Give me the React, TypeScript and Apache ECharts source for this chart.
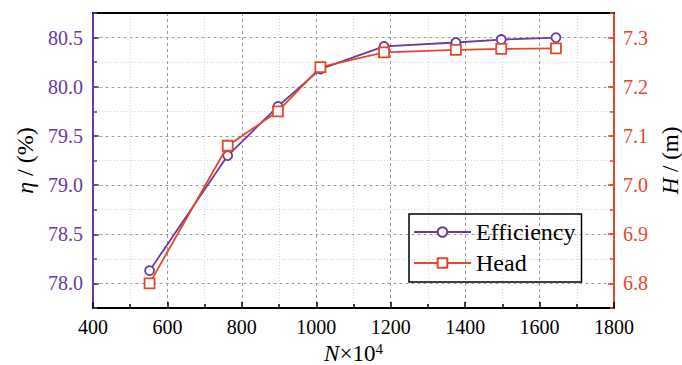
import React, { useEffect, useRef } from "react";
import * as echarts from "echarts";

const speeds = [552, 762, 897, 1011, 1182, 1375, 1497, 1644];
const efficiency = [78.13, 79.3, 79.8, 80.18, 80.41, 80.45, 80.48, 80.5];
const head = [6.8, 7.08, 7.15, 7.24, 7.27, 7.275, 7.277, 7.278];

const PURPLE = "#6a3a9e";
const RED = "#e2482a";
const FONT = "Times New Roman, Liberation Serif, serif";

export default function App() {
  const ref = useRef<HTMLDivElement>(null);
  useEffect(() => {
    const chart = echarts.init(ref.current!, null, { renderer: "svg" });
    const gridLine = { show: true, lineStyle: { color: "#9a9a9a", type: [3, 3] as any, width: 1 } };
    const minorLine = { show: true, lineStyle: { color: "#d2d2d2", type: [1, 2] as any, width: 1 } };
    chart.setOption({
      animation: false,
      textStyle: { fontFamily: FONT },
      grid: { left: 93, right: 68, top: 13, bottom: 57, containLabel: false, outerBoundsMode: "none" },
      legend: {
        orient: "vertical",
        left: 409,
        top: 214,
        padding: [5, 6, 6, 4],
        itemGap: 5,
        itemWidth: 57,
        itemHeight: 12,
        borderColor: "#000",
        borderWidth: 1.5,
        borderRadius: 0,
        textStyle: { fontFamily: FONT, fontSize: 24, color: "#000", lineHeight: 26 },
        data: ["Efficiency", "Head"],
      },
      xAxis: [
        {
          type: "value",
          min: 400,
          max: 1800,
          interval: 200,
          position: "bottom",
          name: "{i|N}×10{sup|4}",
          nameLocation: "middle",
          nameGap: 28,
          nameTextStyle: {
            fontFamily: FONT,
            fontSize: 23,
            color: "#000",
            lineHeight: 22,
            rich: {
              i: { fontFamily: FONT, fontSize: 23, fontStyle: "italic", color: "#000", lineHeight: 22 },
              sup: { fontFamily: FONT, fontSize: 15, color: "#000", lineHeight: 14, padding: [0, 0, 8, 0] },
            },
          },
          axisLine: { show: true, lineStyle: { color: "#000", width: 2 } },
          axisTick: { show: true, inside: true, length: 6, lineStyle: { color: "#000", width: 1.5 } },
          minorTick: { show: true, splitNumber: 2, length: 4, lineStyle: { color: "#000", width: 1.5 } },
          axisLabel: { fontFamily: FONT, fontSize: 20, color: "#000", margin: 9, formatter: (v: number) => String(v) },
          splitLine: gridLine,
          minorSplitLine: minorLine,
        },
        {
          type: "value",
          min: 400,
          max: 1800,
          interval: 200,
          position: "top",
          axisLine: { show: true, lineStyle: { color: "#000", width: 2 } },
          axisTick: { show: false },
          axisLabel: { show: false },
          splitLine: { show: false },
        },
      ],
      yAxis: [
        {
          type: "value",
          position: "left",
          min: 77.75,
          max: 80.75,
          splitNumber: 6,
          name: "{i|η} / (%)",
          nameLocation: "middle",
          nameRotate: 90,
          nameGap: 52,
          nameTextStyle: {
            fontFamily: FONT,
            fontSize: 24,
            color: "#000",
            rich: { i: { fontFamily: FONT, fontSize: 24, fontStyle: "italic", color: "#000" } },
          },
          axisLine: { show: true, lineStyle: { color: PURPLE, width: 2 } },
          axisTick: { show: true, inside: true, length: 6, lineStyle: { color: PURPLE, width: 1.5 } },
          axisLabel: {
            fontFamily: FONT,
            fontSize: 20,
            color: PURPLE,
            margin: 10,
            showMinLabel: false,
            showMaxLabel: false,
            formatter: (v: number) => v.toFixed(1),
          },
          splitLine: gridLine,
        },
        {
          type: "value",
          position: "left",
          min: 77.75,
          max: 80.75,
          interval: 0.25,
          axisLine: { show: false },
          axisTick: { show: true, inside: true, length: 4, lineStyle: { color: PURPLE, width: 1.5 } },
          axisLabel: { show: false },
          splitLine: minorLine,
        },
        {
          type: "value",
          position: "right",
          min: 6.75,
          max: 7.35,
          splitNumber: 6,
          name: "{i|H} / (m)",
          nameLocation: "middle",
          nameRotate: 90,
          nameGap: 41,
          nameTextStyle: {
            fontFamily: FONT,
            fontSize: 23,
            color: "#000",
            lineHeight: 20,
            rich: { i: { fontFamily: FONT, fontSize: 23, fontStyle: "italic", color: "#000", lineHeight: 20 } },
          },
          axisLine: { show: true, lineStyle: { color: RED, width: 2 } },
          axisTick: { show: true, inside: true, length: 6, lineStyle: { color: RED, width: 1.5 } },
          axisLabel: {
            fontFamily: FONT,
            fontSize: 20,
            color: RED,
            margin: 9,
            showMinLabel: false,
            showMaxLabel: false,
            formatter: (v: number) => v.toFixed(1),
          },
          splitLine: { show: false },
        },
        {
          type: "value",
          position: "right",
          min: 6.75,
          max: 7.35,
          interval: 0.05,
          axisLine: { show: false },
          axisTick: { show: true, inside: true, length: 4, lineStyle: { color: RED, width: 1.5 } },
          axisLabel: { show: false },
          splitLine: { show: false },
        },
      ],
      series: [
        {
          name: "Efficiency",
          type: "line",
          yAxisIndex: 0,
          data: speeds.map((x, i) => [x, efficiency[i]]),
          symbol: "circle",
          symbolSize: 9,
          lineStyle: { color: PURPLE, width: 1.8 },
          itemStyle: { color: "#fff", borderColor: PURPLE, borderWidth: 1.8 },
          z: 3,
        },
        {
          name: "Head",
          type: "line",
          yAxisIndex: 2,
          data: speeds.map((x, i) => [x, head[i]]),
          symbol: "rect",
          symbolSize: 10,
          lineStyle: { color: RED, width: 1.8 },
          itemStyle: { color: "#fff", borderColor: RED, borderWidth: 1.8 },
          z: 4,
        },
      ],
    });
    return () => chart.dispose();
  }, []);
  return <div ref={ref} style={{ width: 682, height: 365, position: "absolute", left: 0, top: 0 }} />;
}
